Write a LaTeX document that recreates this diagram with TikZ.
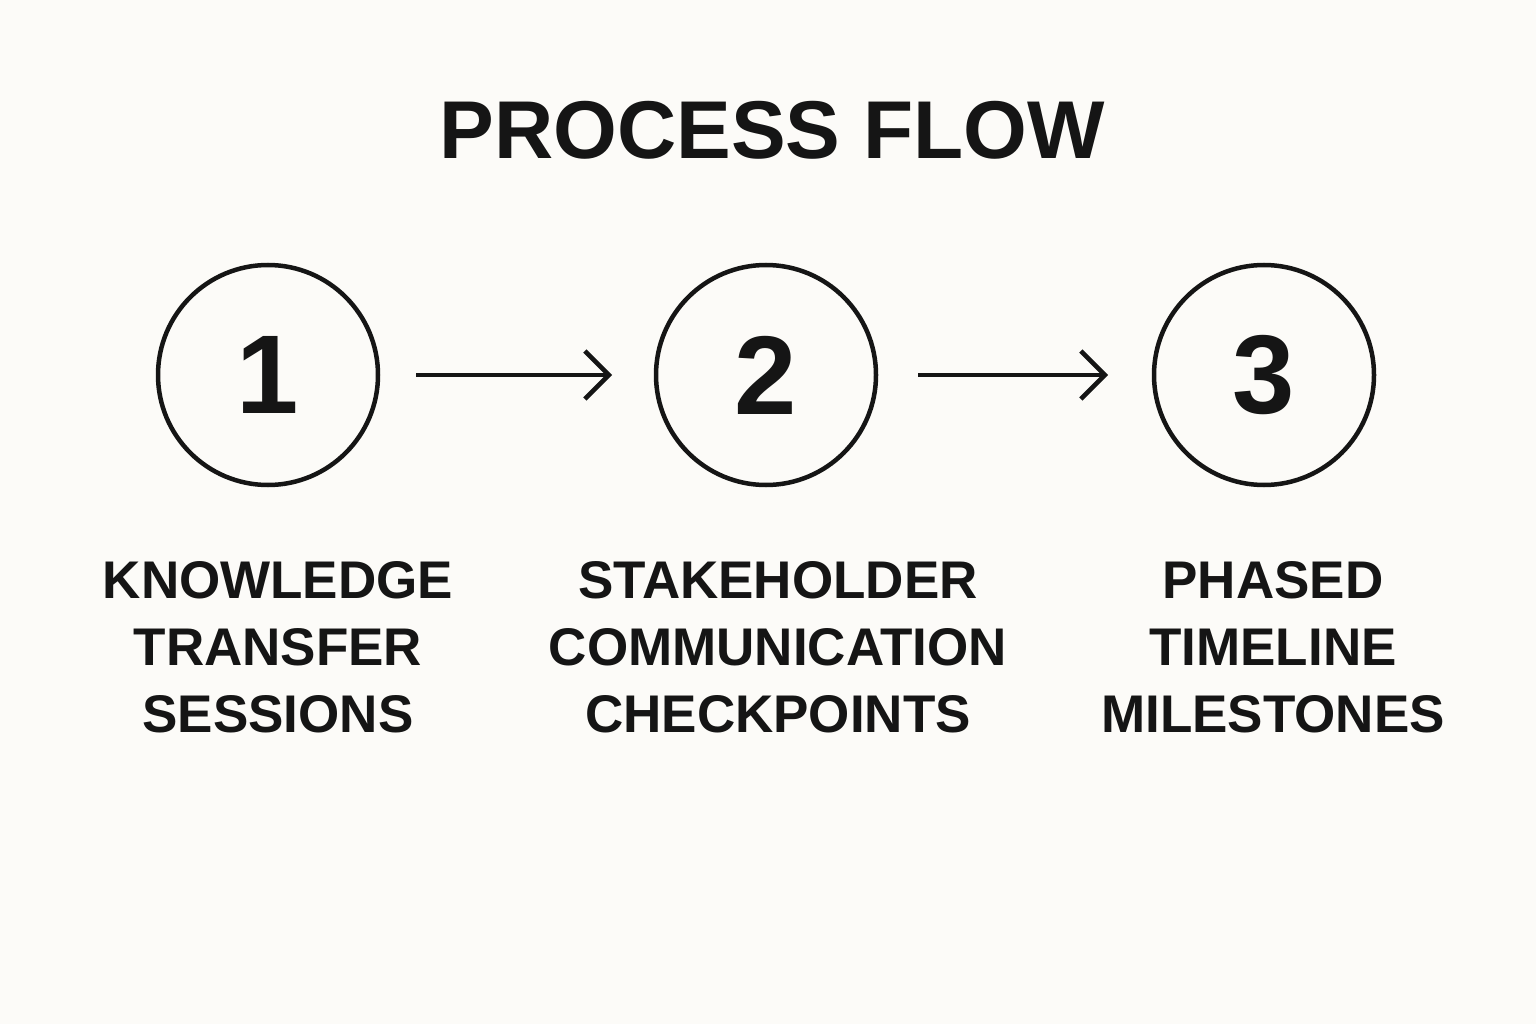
\documentclass[tikz,border=0pt]{standalone}
\usepackage{fontspec}
\setmainfont{Liberation Sans}
\usetikzlibrary{arrows.meta}
\definecolor{bg}{HTML}{FCFBF8}
\definecolor{ink}{HTML}{151515}
\begin{document}
\begin{tikzpicture}[x=1pt,y=-1pt,
  stepcircle/.style={draw=ink,line width=4.5pt,circle,minimum size=220pt,inner sep=0pt,text=ink,font=\fontsize{112}{112}\selectfont\bfseries},
  lbl/.style={text=ink,align=center,font=\fontsize{53}{67}\selectfont\bfseries},
  conn/.style={draw=ink,line width=4.5pt,-{Straight Barb[length=24pt,width=48pt,line width=4.5pt]}}]
\fill[bg] (0,0) rectangle (1536,1024);
\useasboundingbox (0,0) rectangle (1536,1024);
\node[text=ink,font=\fontsize{82}{82}\selectfont\bfseries] (title) at (772,130) {PROCESS FLOW};
\node[stepcircle] (c1) at (268,375) {1};
\node[stepcircle] (c2) at (766,375) {2};
\node[stepcircle] (c3) at (1264,375) {3};
\coordinate (a1s) at (416,375); \coordinate (a1e) at (612,375);
\coordinate (a2s) at (918,375); \coordinate (a2e) at (1108,375);
\draw[conn] (a1s) -- (a1e);
\draw[conn] (a2s) -- (a2e);
\node[lbl] (l1) at (278,647) {KNOWLEDGE\\TRANSFER\\SESSIONS};
\node[lbl] (l2) at (778,647) {STAKEHOLDER\\COMMUNICATION\\CHECKPOINTS};
\node[lbl] (l3) at (1273,647) {PHASED\\TIMELINE\\MILESTONES};
\end{tikzpicture}
\end{document}
